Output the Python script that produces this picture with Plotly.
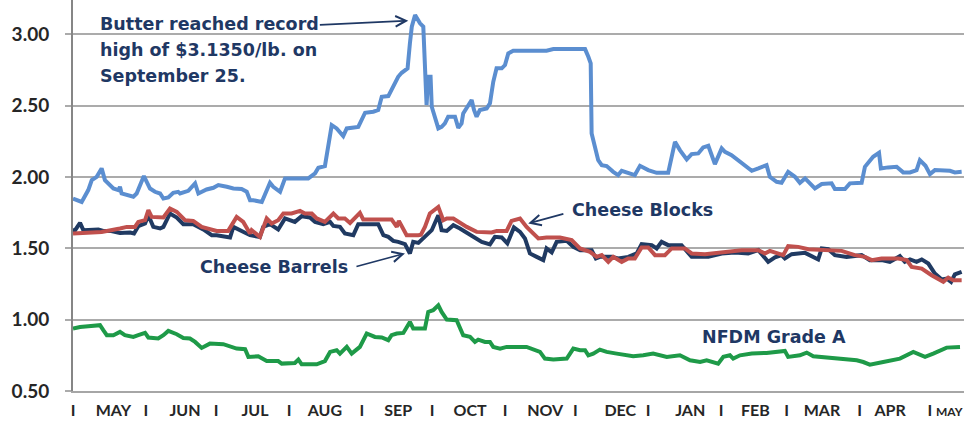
import pandas as pd
import plotly.graph_objects as go

# Days counted from 2014-05-01
START = pd.Timestamp("2014-05-01")

butter_day = [0, 3.7, 6.5, 8.0, 10.1, 12.2, 13.6, 17.2, 19.3, 20.0,
              20.7, 25.7, 27.1, 30.2, 32.8, 34.9, 37.1, 38.5, 40.6, 42.7,
              44.8, 45.6, 49.1, 52.0, 53.4, 56.9, 59.8, 61.9, 65.5, 68.3,
              71.8, 74.0, 75.4, 76.8, 80.4, 83.9, 85.3, 88.2, 90.3, 100.2,
              103.1, 104.5, 107.3, 110.2, 112.3, 115.1, 116.6, 119.4, 121.5, 124.4,
              127.9, 130.0, 131.5, 134.3, 136.4, 138.5, 140.0, 142.5, 143.5, 144.3,
              145.7, 147.8, 149.2, 149.9, 150.6, 151.3, 152.3, 152.8, 154.2, 155.6,
              157.0, 158.4, 159.8, 162.7, 164.1, 165.5, 166.2, 168.4, 169.8, 170.8,
              171.9, 173.3, 176.2, 177.6, 179.0, 180.4, 182.6, 184.0, 185.4, 187.5,
              201.7, 204.6, 210.3, 214.5, 218.1, 219.5, 220.5, 220.9, 222.3, 223.7,
              225.2, 227.3, 230.1, 232.2, 233.7, 236.5, 239.3, 241.5, 245.0, 248.6,
              253.5, 256.4, 258.5, 261.4, 263.5, 266.3, 268.4, 270.6, 273.4, 276.3,
              277.7, 280.5, 283.3, 289.1, 291.9, 295.4, 296.8, 299.7, 301.8, 304.6,
              307.5, 309.6, 311.8, 313.9, 316.0, 318.9, 323.1, 324.5, 328.8, 330.9,
              335.9, 337.3, 338.7, 340.8, 343.3, 344.1, 347.2, 350.8, 353.6, 356.5,
              359.3, 360.7, 363.1, 365.0, 367.1, 373.5, 375.6, 378.5]
butter_val = [1.849, 1.825, 1.908, 1.978, 2.001, 2.060, 1.978, 1.919, 1.908, 1.931,
              1.884, 1.861, 1.884, 2.006, 1.919, 1.896, 1.884, 1.849, 1.856, 1.889,
              1.896, 1.884, 1.903, 1.955, 1.884, 1.912, 1.924, 1.943, 1.931, 1.919,
              1.915, 1.896, 1.837, 1.837, 1.825, 1.959, 1.931, 1.896, 1.990, 1.990,
              2.025, 2.064, 2.076, 2.363, 2.340, 2.286, 2.340, 2.344, 2.351, 2.450,
              2.457, 2.469, 2.562, 2.567, 2.632, 2.702, 2.730, 2.761, 2.936, 3.053,
              3.135, 3.077, 3.053, 2.772, 2.504, 2.702, 2.702, 2.492, 2.422, 2.340,
              2.351, 2.375, 2.422, 2.422, 2.344, 2.375, 2.445, 2.504, 2.539, 2.469,
              2.422, 2.469, 2.480, 2.516, 2.667, 2.761, 2.761, 2.784, 2.866, 2.884,
              2.884, 2.896, 2.896, 2.901, 2.896, 2.842, 2.796, 2.305, 2.202, 2.118,
              2.083, 2.076, 2.036, 2.013, 2.043, 2.029, 2.013, 2.078, 2.048, 2.029,
              2.029, 2.246, 2.188, 2.123, 2.160, 2.165, 2.207, 2.218, 2.090, 2.200,
              2.176, 2.153, 2.118, 2.043, 2.060, 2.083, 2.001, 1.966, 1.959, 2.036,
              2.001, 1.959, 1.990, 1.950, 1.919, 1.950, 1.955, 1.915, 1.915, 1.955,
              1.959, 2.071, 2.095, 2.141, 2.169, 2.060, 2.067, 2.071, 2.032, 2.032,
              2.048, 2.118, 2.078, 2.020, 2.048, 2.043, 2.032, 2.036]

blocks_day = [0, 12.2, 20.0, 22.9, 26.4, 27.8, 30.7, 32.1, 33.5, 38.5,
              41.3, 44.2, 47.7, 51.2, 54.8, 59.1, 61.2, 66.1, 69.7, 72.5,
              75.4, 76.1, 79.6, 82.5, 84.6, 87.4, 89.6, 93.1, 96.7, 98.8,
              101.7, 103.8, 107.3, 110.9, 113.0, 115.8, 118.0, 122.2, 123.6, 135.7,
              137.9, 138.8, 142.1, 147.1, 148.2, 149.9, 152.0, 155.6, 157.7, 159.2,
              162.0, 167.7, 171.9, 178.3, 180.5, 184.7, 186.8, 190.4, 193.2, 198.2,
              201.7, 207.4, 212.4, 215.9, 220.2, 223.0, 225.2, 228.0, 230.1, 233.7,
              236.5, 239.3, 242.2, 245.0, 247.9, 252.1, 255.0, 260.6, 263.5, 269.2,
              275.5, 282.0, 284.8, 291.9, 294.7, 296.8, 302.5, 304.6, 308.9, 313.2,
              320.3, 327.4, 333.0, 337.3, 340.2, 344.4, 351.5, 355.1, 357.2, 361.5,
              365.7, 370.7, 372.8, 374.9, 378.5]
blocks_val = [1.604, 1.615, 1.639, 1.650, 1.650, 1.685, 1.697, 1.767, 1.720, 1.716,
              1.779, 1.755, 1.697, 1.692, 1.650, 1.627, 1.622, 1.622, 1.720, 1.685,
              1.604, 1.627, 1.580, 1.709, 1.674, 1.697, 1.744, 1.744, 1.762, 1.744,
              1.744, 1.709, 1.685, 1.744, 1.709, 1.709, 1.678, 1.748, 1.702, 1.702,
              1.650, 1.692, 1.592, 1.592, 1.595, 1.650, 1.744, 1.790, 1.697, 1.709,
              1.709, 1.650, 1.615, 1.611, 1.622, 1.622, 1.692, 1.709, 1.650, 1.569,
              1.576, 1.576, 1.557, 1.499, 1.475, 1.440, 1.452, 1.405, 1.440, 1.405,
              1.429, 1.429, 1.506, 1.506, 1.452, 1.452, 1.499, 1.499, 1.464, 1.459,
              1.471, 1.482, 1.487, 1.487, 1.464, 1.482, 1.452, 1.515, 1.510, 1.494,
              1.487, 1.482, 1.452, 1.440, 1.417, 1.429, 1.429, 1.417, 1.370, 1.358,
              1.311, 1.265, 1.295, 1.276, 1.276]

barrels_day = [0, 0.9, 3.0, 4.4, 10.8, 12.9, 15.8, 20.0, 24.3, 26.0,
               27.8, 30.7, 32.1, 34.2, 37.1, 38.5, 41.3, 44.2, 47.0, 51.2,
               55.5, 59.1, 61.2, 66.9, 68.3, 71.1, 73.3, 75.4, 79.6, 81.0,
               83.9, 87.4, 90.3, 94.5, 97.4, 100.9, 103.1, 106.6, 109.5, 110.9,
               113.7, 115.8, 119.4, 121.5, 130.0, 132.2, 134.3, 136.4, 138.5, 141.4,
               143.5, 144.9, 147.1, 149.9, 152.8, 155.6, 157.0, 159.2, 162.0, 164.8,
               168.4, 171.2, 174.1, 177.6, 179.7, 182.6, 185.0, 187.8, 190.4, 192.5,
               194.6, 197.5, 200.3, 201.7, 203.9, 206.0, 210.3, 213.1, 216.0, 220.9,
               222.7, 224.4, 229.4, 232.2, 236.5, 240.1, 242.2, 246.5, 248.6, 250.7,
               253.5, 259.2, 263.5, 270.6, 276.3, 281.9, 287.6, 291.9, 296.1, 299.0,
               301.8, 303.2, 306.1, 311.8, 317.4, 318.9, 321.7, 324.5, 329.5, 335.9,
               339.4, 344.4, 347.9, 352.2, 354.3, 356.5, 359.3, 361.5, 364.3, 367.1,
               370.0, 372.2, 374.0, 375.6, 378.5]
barrels_val = [1.627, 1.627, 1.678, 1.627, 1.632, 1.622, 1.622, 1.608, 1.611, 1.604,
               1.655, 1.674, 1.732, 1.650, 1.639, 1.650, 1.744, 1.716, 1.669, 1.669,
               1.632, 1.592, 1.592, 1.576, 1.650, 1.627, 1.604, 1.592, 1.580, 1.650,
               1.669, 1.632, 1.709, 1.685, 1.725, 1.716, 1.685, 1.669, 1.685, 1.657,
               1.650, 1.604, 1.592, 1.669, 1.669, 1.592, 1.580, 1.552, 1.545, 1.529,
               1.464, 1.545, 1.538, 1.580, 1.627, 1.732, 1.627, 1.622, 1.662, 1.639,
               1.604, 1.569, 1.545, 1.527, 1.580, 1.576, 1.534, 1.646, 1.615, 1.569,
               1.464, 1.440, 1.417, 1.499, 1.471, 1.545, 1.552, 1.510, 1.487, 1.487,
               1.429, 1.440, 1.440, 1.429, 1.440, 1.464, 1.529, 1.522, 1.499, 1.545,
               1.522, 1.522, 1.440, 1.440, 1.464, 1.471, 1.464, 1.487, 1.405, 1.436,
               1.452, 1.429, 1.459, 1.468, 1.422, 1.499, 1.494, 1.452, 1.440, 1.452,
               1.417, 1.417, 1.405, 1.445, 1.405, 1.422, 1.405, 1.422, 1.393, 1.323,
               1.281, 1.288, 1.265, 1.318, 1.335]

nfdm_day = [0, 3.0, 6.5, 11.5, 12.9, 14.4, 17.2, 20.0, 22.1, 25.7,
            27.8, 30.7, 32.1, 36.3, 38.5, 40.6, 44.2, 47.0, 49.8, 52.0,
            54.8, 58.3, 64.0, 66.9, 69.7, 73.3, 74.7, 78.9, 82.5, 87.4,
            88.9, 94.5, 96.0, 97.4, 103.8, 107.3, 109.5, 112.3, 113.7, 116.6,
            118.7, 122.2, 125.1, 128.6, 131.5, 134.3, 135.7, 137.9, 140.7, 143.5,
            144.9, 149.9, 151.3, 153.4, 155.6, 157.0, 159.2, 163.4, 166.2, 169.1,
            171.2, 172.6, 175.5, 177.6, 179.0, 181.9, 184.7, 193.2, 198.9, 201.0,
            204.6, 210.3, 213.1, 216.0, 218.1, 219.5, 221.6, 224.4, 227.3, 231.6,
            238.6, 242.9, 247.1, 252.9, 258.5, 262.8, 267.1, 269.9, 274.8, 277.0,
            279.8, 281.2, 284.1, 289.1, 295.4, 303.2, 304.6, 309.6, 312.5, 315.3,
            321.0, 326.7, 333.8, 336.6, 339.4, 345.1, 352.2, 357.9, 360.7, 362.9,
            366.4, 372.1, 377.8]
nfdm_val = [0.938, 0.949, 0.954, 0.961, 0.926, 0.891, 0.891, 0.914, 0.891, 0.879,
            0.891, 0.907, 0.875, 0.868, 0.891, 0.921, 0.898, 0.872, 0.868, 0.844,
            0.802, 0.832, 0.828, 0.814, 0.797, 0.793, 0.739, 0.743, 0.710, 0.710,
            0.692, 0.696, 0.720, 0.687, 0.687, 0.710, 0.774, 0.786, 0.762, 0.809,
            0.762, 0.809, 0.903, 0.879, 0.875, 0.856, 0.891, 0.903, 0.907, 0.984,
            0.938, 0.938, 1.054, 1.066, 1.101, 1.054, 1.001, 0.996, 0.891, 0.879,
            0.844, 0.860, 0.844, 0.844, 0.809, 0.797, 0.809, 0.809, 0.774, 0.727,
            0.720, 0.727, 0.797, 0.786, 0.786, 0.750, 0.762, 0.790, 0.774, 0.762,
            0.743, 0.750, 0.762, 0.739, 0.750, 0.715, 0.703, 0.715, 0.692, 0.739,
            0.750, 0.727, 0.750, 0.762, 0.767, 0.781, 0.739, 0.750, 0.769, 0.743,
            0.734, 0.720, 0.715, 0.703, 0.685, 0.703, 0.727, 0.774, 0.750, 0.739,
            0.762, 0.804, 0.809]

month_names = ["MAY", "JUN", "JUL", "AUG", "SEP", "OCT", "NOV",
               "DEC", "JAN", "FEB", "MAR", "APR", "MAY"]
month_label_day = [17.2, 47.7, 77.5, 107.3, 138.5, 169.1, 201.1,
                   233.1, 262.9, 290.6, 319.0, 348.0, 373.2]
y_ticks = [0.5, 1.0, 1.5, 2.0, 2.5, 3.0]


def to_dates(days):
    return [START + pd.Timedelta(days=float(d)) for d in days]


NAVY = "#1F3864"
fig = go.Figure()
fig.add_trace(go.Scatter(x=to_dates(butter_day), y=butter_val, mode="lines",
                         line=dict(color="#5B8ED0", width=4), name="Butter"))
fig.add_trace(go.Scatter(x=to_dates(barrels_day), y=barrels_val, mode="lines",
                         line=dict(color="#203A62", width=4), name="Cheese Barrels"))
fig.add_trace(go.Scatter(x=to_dates(blocks_day), y=blocks_val, mode="lines",
                         line=dict(color="#C0504D", width=4), name="Cheese Blocks"))
fig.add_trace(go.Scatter(x=to_dates(nfdm_day), y=nfdm_val, mode="lines",
                         line=dict(color="#1E9A48", width=4), name="NFDM Grade A"))

month_starts = list(pd.date_range("2014-05-01", "2015-05-01", freq="MS"))
label_dates = to_dates(month_label_day)
tickvals = month_starts + label_dates
ticktext = ["I"] * len(month_starts) + month_names[:-1] + [
    '<span style="font-size:12px">' + month_names[-1] + "</span>"]

ann_font = dict(family="DejaVu Sans", size=17.5, color=NAVY, weight="bold")


def D(d):
    return (START + pd.Timedelta(days=d)).isoformat()


annotations = []
for text, yv in [("Butter reached record", 3.072),
                 ("high of $3.1350/lb. on", 2.889),
                 ("September 25.", 2.707)]:
    annotations.append(dict(x=D(10.6), y=yv, xref="x", yref="y", text=text,
                            showarrow=False, xanchor="left", yanchor="middle",
                            font=ann_font))
annotations.append(dict(x=D(211.7), y=1.767, xref="x", yref="y", text="Cheese Blocks",
                        showarrow=False, xanchor="left", yanchor="middle", font=ann_font))
annotations.append(dict(x=D(118.0), y=1.370, xref="x", yref="y", text="Cheese Barrels",
                        showarrow=False, xanchor="right", yanchor="middle", font=ann_font))
annotations.append(dict(x=D(267.0), y=0.879, xref="x", yref="y", text="NFDM Grade A",
                        showarrow=False, xanchor="left", yanchor="middle", font=ann_font))
for (hx, hy, tx, ty) in [(142.8, 3.095, 104.5, 3.065),
                         (193.9, 1.674, 209.5, 1.744),
                         (141.4, 1.464, 120.1, 1.370)]:
    annotations.append(dict(x=D(hx), y=hy, ax=D(tx), ay=ty, xref="x", yref="y",
                            axref="x", ayref="y", text="", showarrow=True,
                            arrowhead=5, arrowsize=1.3, arrowwidth=1.6,
                            arrowcolor=NAVY, standoff=0, startstandoff=0))

fig.update_layout(
    width=964, height=422,
    margin=dict(l=73, r=0, t=0, b=31, autoexpand=False),
    paper_bgcolor="white", plot_bgcolor="white",
    showlegend=False,
    annotations=annotations,
    xaxis=dict(range=[START, START + pd.Timedelta(days=379.5)],
               showgrid=False, zeroline=False,
               showline=True, linecolor="#A6A6A6", linewidth=1.5,
               tickmode="array", tickvals=tickvals, ticktext=ticktext,
               ticks="", tickangle=0, ticklabelstandoff=4,
               ticklabeloverflow="allow",
               tickfont=dict(family="Lato", size=16, color="#262626", weight="bold")),
    yaxis=dict(range=[0.5, 3.24], tickmode="array", tickvals=y_ticks,
               tickformat=".2f", showgrid=True, gridcolor="#ABABAB", gridwidth=1.5,
               zeroline=False, showline=True, linecolor="#868686", linewidth=2,
               ticks="outside", ticklen=6, tickcolor="#ABABAB", tickwidth=1.5,
               ticklabelstandoff=12,
               tickfont=dict(family="Lato", size=19, color="#262626", weight="bold")),
)

fig.write_html("out.html",
               config={"displayModeBar": False},
               post_script="document.body.style.margin='0';"
                           "document.body.style.overflow='hidden';")
